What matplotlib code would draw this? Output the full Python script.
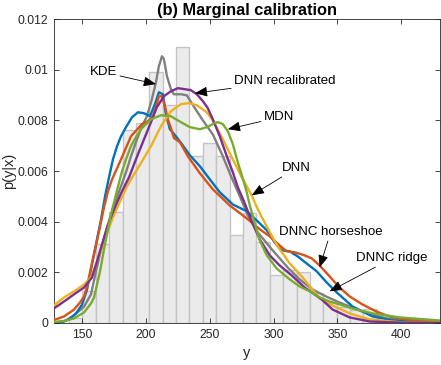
import numpy as np
import matplotlib
matplotlib.use("Agg")
import matplotlib.pyplot as plt

plt.rcParams['font.family'] = ['Liberation Sans', 'DejaVu Sans']

# ---------------- data ----------------
bin_edges = [139.8, 150.3, 160.8, 171.2, 181.7, 192.2, 202.7, 213.2, 223.6, 234.1,
             244.6, 255.1, 265.6, 276.0, 286.5, 297.0, 307.5, 318.0, 328.4, 338.9,
             349.4, 359.9, 370.4, 380.8]
bin_heights = [0.0002, 0.00126, 0.0031, 0.0044, 0.0076, 0.0079, 0.0099, 0.0086, 0.0109,
               0.0066, 0.0071, 0.0066, 0.00347, 0.00435, 0.0032, 0.0019, 0.0021, 0.0020,
               0.0012, 0.00084, 0.00065, 0.00052, 0.00055]

kde_x = [128.1, 135.9, 143.7, 151.6, 157.0, 160.9, 164.9, 169.5, 175.0, 180.5, 184.4, 188.3,
         193.0, 196.9, 200.8, 204.7, 207.9, 210.2, 212.6, 214.1, 216.5, 219.6, 221.9, 227.4,
         232.1, 236.8, 244.6, 252.4, 260.3, 265.7, 273.6, 279.8, 287.6, 298.6, 311.1, 320.5,
         330.7, 341.0, 351.7, 359.6, 369.7, 388.5, 414.3, 430.0]
kde_y = [0.02, 0.06, 0.30, 0.65, 1.13, 2.04, 2.91, 3.78, 4.64, 5.40, 5.95, 6.58,
         7.25, 7.77, 8.16, 8.83, 9.51, 10.14, 10.53, 10.42, 9.74, 9.23, 9.03, 9.03,
         8.99, 8.60, 8.00, 7.45, 6.58, 5.91, 5.00, 4.25, 3.58, 2.91, 2.19, 1.72,
         1.32, 1.05, 0.81, 0.65, 0.45, 0.18, 0.06, 0.02]

ridge_x = [128.1, 134.4, 139.8, 145.3, 150.0, 153.9, 157.0, 160.9, 164.9, 168.0, 171.1, 174.2,
           177.4, 180.5, 184.4, 189.1, 193.8, 198.5, 203.2, 207.1, 210.2, 213.3, 215.7, 218.8,
           223.5, 228.2, 234.5, 242.3, 250.1, 257.9, 268.1, 279.0, 287.6, 294.7, 300.9, 306.4,
           312.7, 318.9, 325.9, 333.8, 341.6, 349.4, 361.9, 377.5, 393.2, 408.8, 430.0]
ridge_y = [0.02, 0.04, 0.14, 0.38, 0.73, 1.32, 2.11, 3.10, 4.09, 5.00, 5.75, 6.46,
           6.98, 7.37, 7.73, 8.12, 8.32, 8.28, 8.16, 8.64, 9.11, 9.03, 8.24, 7.65,
           7.37, 7.06, 6.62, 6.19, 5.67, 5.16, 4.68, 4.41, 4.01, 3.66, 3.18, 2.87,
           2.83, 2.63, 2.35, 2.04, 1.60, 1.21, 0.65, 0.26, 0.10, 0.04, 0.02]

horse_x = [128.1, 135.9, 143.7, 148.4, 151.6, 153.9, 157.0, 160.2, 164.1, 167.2, 170.3, 173.5,
           180.5, 188.3, 196.9, 201.6, 205.5, 207.9, 210.2, 212.6, 214.9, 217.2, 219.6, 222.0,
           226.6, 232.9, 242.3, 252.4, 265.7, 279.0, 289.2, 297.0, 304.8, 310.3, 316.6, 324.4,
           329.9, 336.1, 343.9, 351.7, 359.6, 369.7, 380.7, 390.8, 404.2, 430.0]
horse_y = [0.12, 0.26, 0.53, 0.81, 1.05, 1.44, 2.19, 2.91, 3.81, 4.57, 5.20, 5.67,
           6.46, 7.37, 7.85, 7.97, 8.16, 8.52, 8.95, 8.95, 8.56, 8.04, 7.70, 7.30,
           7.14, 6.58, 5.91, 5.28, 4.64, 4.13, 3.70, 3.42, 3.06, 2.83, 2.79, 2.67,
           2.55, 2.27, 1.84, 1.40, 1.05, 0.73, 0.45, 0.26, 0.14, 0.06]

dnn_x = [128.1, 135.9, 143.7, 151.6, 157.0, 160.9, 164.9, 169.5, 174.2, 180.5, 185.2, 190.7,
         196.1, 204.0, 211.8, 219.6, 227.4, 233.7, 239.9, 247.7, 252.4, 260.3, 268.1, 275.1,
         282.9, 287.6, 295.4, 303.3, 312.7, 322.8, 336.1, 346.3, 359.6, 375.2, 401.0, 430.0]
dnn_y = [0.70, 1.01, 1.25, 1.52, 1.80, 2.31, 2.87, 3.54, 4.17, 4.88, 5.40, 5.87,
         6.31, 6.98, 7.77, 8.36, 8.64, 8.68, 8.60, 8.32, 8.00, 7.25, 6.46, 5.75,
         5.04, 4.49, 3.74, 3.02, 2.35, 1.80, 0.97, 0.69, 0.38, 0.14, 0.02, 0.0]

recal_x = [128.1, 135.9, 143.7, 151.6, 157.8, 161.7, 165.6, 169.5, 173.5, 177.4, 181.3, 186.8,
           192.2, 198.5, 204.0, 208.6, 214.1, 219.6, 225.1, 230.5, 235.2, 239.9, 244.6, 248.5,
           252.4, 257.9, 263.4, 268.1, 272.0, 277.5, 282.9, 289.2, 293.1, 297.0, 304.8, 314.2,
           324.4, 337.7, 346.3, 359.6, 375.2, 401.0, 430.0]
recal_y = [0.58, 0.85, 1.13, 1.40, 1.80, 2.43, 3.10, 3.74, 4.29, 4.76, 5.20, 5.75,
           6.46, 7.25, 7.93, 8.52, 8.95, 9.15, 9.27, 9.23, 9.19, 9.03, 8.76, 8.48,
           8.04, 7.37, 6.58, 5.95, 5.36, 4.72, 4.01, 3.30, 2.98, 2.67, 2.27, 1.88,
           1.40, 0.93, 0.53, 0.22, 0.06, 0.01, 0.0]

mdn_x = [128.1, 135.9, 143.7, 151.6, 157.0, 159.4, 161.7, 164.1, 167.2, 170.3, 172.7, 177.4,
         181.3, 184.4, 188.3, 192.2, 196.1, 204.0, 211.8, 219.6, 227.4, 234.5, 242.3, 247.7,
         252.4, 256.3, 260.3, 264.2, 268.1, 272.0, 275.9, 279.0, 281.4, 285.3, 289.2, 294.7,
         302.5, 312.7, 320.5, 329.9, 336.1, 343.9, 351.7, 361.9, 377.5, 398.7, 430.0]
mdn_y = [0.04, 0.08, 0.18, 0.42, 0.77, 1.01, 1.52, 2.04, 2.91, 3.70, 4.29, 5.24,
         5.99, 6.46, 6.98, 7.33, 7.65, 8.04, 8.20, 8.16, 7.93, 7.73, 7.65, 7.73,
         7.85, 7.93, 7.85, 7.57, 7.06, 6.34, 5.71, 5.16, 4.64, 3.93, 3.26, 2.67,
         2.15, 1.72, 1.44, 1.21, 1.01, 0.85, 0.73, 0.57, 0.38, 0.22, 0.10]

x_ticks = [150, 200, 250, 300, 350, 400]
y_ticks = [0, 0.002, 0.004, 0.006, 0.008, 0.010, 0.012]
y_tick_labels = ['0', '0.002', '0.004', '0.006', '0.008', '0.01', '0.012']

# ---------------- plot ----------------
fig = plt.figure(figsize=(4.41, 3.65), dpi=100)
ax = fig.add_axes([0.1224, 0.1151, 0.8742, 0.8328])

edges = np.array(bin_edges)
ax.bar(edges[:-1], bin_heights, width=np.diff(edges), align='edge',
       facecolor='#EBEBEB', edgecolor='#C4C4C4', linewidth=1.0, zorder=1)

lw = 1.7
s = 1e-3
ax.plot(kde_x, np.array(kde_y) * s, color='#808080', lw=lw, zorder=2)
ax.plot(ridge_x, np.array(ridge_y) * s, color='#0072BD', lw=lw, zorder=3)
ax.plot(horse_x, np.array(horse_y) * s, color='#D95319', lw=lw, zorder=3)
ax.plot(dnn_x, np.array(dnn_y) * s, color='#EDB120', lw=lw, zorder=3)
ax.plot(recal_x, np.array(recal_y) * s, color='#7E2F8E', lw=lw, zorder=3)
ax.plot(mdn_x, np.array(mdn_y) * s, color='#77AC30', lw=lw, zorder=3)

ax.set_xlim(128, 430)
ax.set_ylim(0, 0.012)
ax.set_xticks(x_ticks)
ax.set_yticks(y_ticks)
ax.set_yticklabels(y_tick_labels)

axcol = '#262626'
ax.tick_params(direction='in', length=3.5, width=0.6, top=True, right=True,
               labelsize=8.7, colors=axcol, pad=4)
for sp in ax.spines.values():
    sp.set_color(axcol)
    sp.set_linewidth(0.6)

ax.set_xlabel('y', fontsize=10.5, color=axcol, labelpad=4)
ax.set_ylabel('p(y|x)', fontsize=10.5, color=axcol)
ax.yaxis.set_label_coords(-0.098, 0.5)
ax.set_title('(b) Marginal calibration', fontsize=11.8, fontweight='bold', color='black', pad=3)

arrow = dict(arrowstyle='-|>,head_length=0.8,head_width=0.32', color='black', lw=0.6,
             shrinkA=0, shrinkB=0)
fs = 9.5
ax.annotate('KDE', xy=(207.9, 0.00943), xytext=(166.8, 0.0099), fontsize=fs,
            ha='center', va='center', arrowprops=arrow, zorder=5)
ax.annotate('DNN recalibrated', xy=(238.4, 0.00907), xytext=(308.7, 0.00955), fontsize=fs,
            ha='center', va='center', arrowprops=arrow, zorder=5)
ax.annotate('MDN', xy=(264.2, 0.00765), xytext=(304.1, 0.00812), fontsize=fs,
            ha='center', va='center', arrowprops=arrow, zorder=5)
ax.annotate('DNN', xy=(282.9, 0.00504), xytext=(317.7, 0.00611), fontsize=fs,
            ha='center', va='center', arrowprops=arrow, zorder=5)
ax.annotate('DNNC horseshoe', xy=(336.1, 0.00219), xytext=(344.7, 0.00358), fontsize=fs,
            ha='center', va='center', arrowprops=arrow, zorder=5)
ax.annotate('DNNC ridge', xy=(343.9, 0.00125), xytext=(392.8, 0.00255), fontsize=fs,
            ha='center', va='center', arrowprops=arrow, zorder=5)

fig.savefig('out.png', dpi=100)
